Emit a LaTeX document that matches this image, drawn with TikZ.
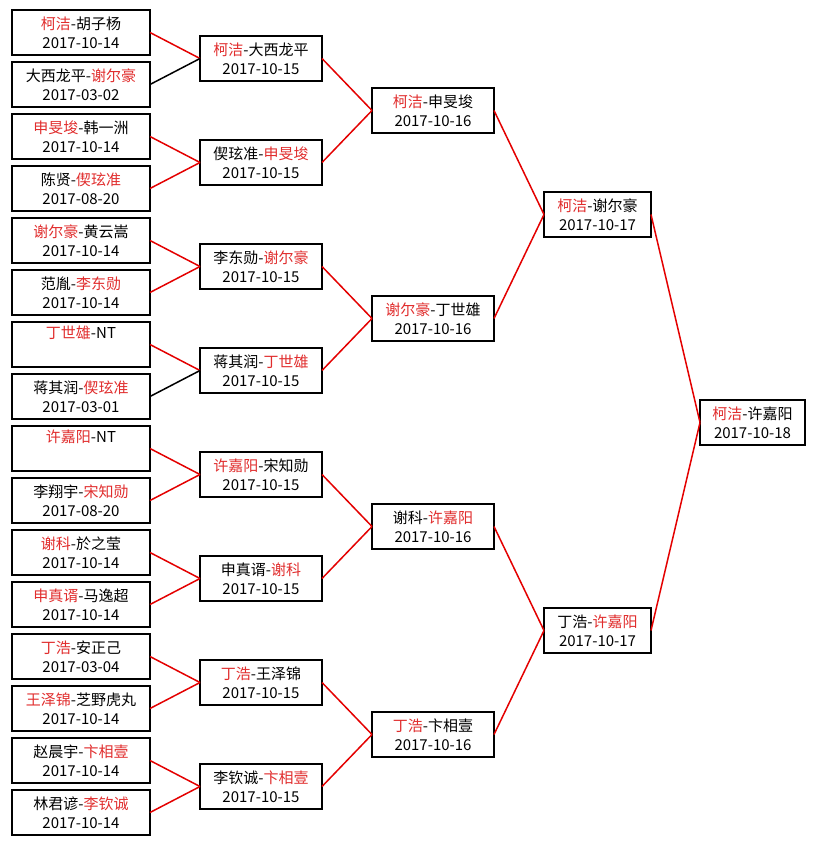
\documentclass[tikz,border=0pt]{standalone}
\usepackage{fontspec}
\setmainfont{Noto Sans CJK SC}
\usepackage{xcolor}
\usetikzlibrary{positioning, calc}
\definecolor{namered}{RGB}{225,45,45}
\definecolor{linkred}{RGB}{228,0,0}
\newcommand{\wn}[1]{\textcolor{namered}{#1}}

\begin{document}
\begin{tikzpicture}[
  x=1pt, y=-1pt,
  node distance=7pt,
  block/.style={rectangle, draw=black, line width=1.6pt, fill=white,
    minimum height=45pt, inner sep=0pt, outer sep=0pt, align=center,
    font=\fontsize{15}{19}\selectfont},
  round1/.style={block, minimum width=138pt},
  round2/.style={block, minimum width=122pt},
  round3/.style={block, minimum width=122pt},
  round4/.style={block, minimum width=107pt},
  final/.style={block, minimum width=105pt},
  arr/.style={line width=1.5pt, linkred},
  arrold/.style={line width=1.5pt, black}
]
  \useasboundingbox[fill=white] (0,0) rectangle (816,845);

  %% first round
  \node[round1] (a1) at (81,32.5) {\wn{柯洁}-胡子杨\\2017-10-14};
  \node[round1, below=of a1]  (a2)  {大西龙平-\wn{谢尔豪}\\2017-03-02};
  \node[round1, below=of a2]  (a3)  {\wn{申旻埈}-韩一洲\\2017-10-14};
  \node[round1, below=of a3]  (a4)  {陈贤-\wn{偰玹准}\\2017-08-20};
  \node[round1, below=of a4]  (a5)  {\wn{谢尔豪}-黄云嵩\\2017-10-14};
  \node[round1, below=of a5]  (a6)  {范胤-\wn{李东勋}\\2017-10-14};
  \node[round1, below=of a6]  (a7)  {\wn{丁世雄}-NT\\\strut};
  \node[round1, below=of a7]  (a8)  {蒋其润-\wn{偰玹准}\\2017-03-01};
  \node[round1, below=of a8]  (a9)  {\wn{许嘉阳}-NT\\\strut};
  \node[round1, below=of a9]  (a10) {李翔宇-\wn{宋知勋}\\2017-08-20};
  \node[round1, below=of a10] (a11) {\wn{谢科}-於之莹\\2017-10-14};
  \node[round1, below=of a11] (a12) {\wn{申真谞}-马逸超\\2017-10-14};
  \node[round1, below=of a12] (a13) {\wn{丁浩}-安正己\\2017-03-04};
  \node[round1, below=of a13] (a14) {\wn{王泽锦}-芝野虎丸\\2017-10-14};
  \node[round1, below=of a14] (a15) {赵晨宇-\wn{卞相壹}\\2017-10-14};
  \node[round1, below=of a15] (a16) {林君谚-\wn{李钦诚}\\2017-10-14};

  %% second round
  \node[round2] (b1) at ($(a1)!0.5!(a2)+(180,0)$)   {\wn{柯洁}-大西龙平\\2017-10-15};
  \node[round2] (b2) at ($(a3)!0.5!(a4)+(180,0)$)   {偰玹准-\wn{申旻埈}\\2017-10-15};
  \node[round2] (b3) at ($(a5)!0.5!(a6)+(180,0)$)   {李东勋-\wn{谢尔豪}\\2017-10-15};
  \node[round2] (b4) at ($(a7)!0.5!(a8)+(180,0)$)   {蒋其润-\wn{丁世雄}\\2017-10-15};
  \node[round2] (b5) at ($(a9)!0.5!(a10)+(180,0)$)  {\wn{许嘉阳}-宋知勋\\2017-10-15};
  \node[round2] (b6) at ($(a11)!0.5!(a12)+(180,0)$) {申真谞-\wn{谢科}\\2017-10-15};
  \node[round2] (b7) at ($(a13)!0.5!(a14)+(180,0)$) {\wn{丁浩}-王泽锦\\2017-10-15};
  \node[round2] (b8) at ($(a15)!0.5!(a16)+(180,0)$) {李钦诚-\wn{卞相壹}\\2017-10-15};

  %% third round
  \node[round3] (c1) at ($(b1)!0.5!(b2)+(172,0)$) {\wn{柯洁}-申旻埈\\2017-10-16};
  \node[round3] (c2) at ($(b3)!0.5!(b4)+(172,0)$) {\wn{谢尔豪}-丁世雄\\2017-10-16};
  \node[round3] (c3) at ($(b5)!0.5!(b6)+(172,0)$) {谢科-\wn{许嘉阳}\\2017-10-16};
  \node[round3] (c4) at ($(b7)!0.5!(b8)+(172,0)$) {\wn{丁浩}-卞相壹\\2017-10-16};

  %% semi final and final
  \node[round4] (d1) at ($(c1)!0.5!(c2)+(164.5,0)$) {\wn{柯洁}-谢尔豪\\2017-10-17};
  \node[round4] (d2) at ($(c3)!0.5!(c4)+(164.5,0)$) {丁浩-\wn{许嘉阳}\\2017-10-17};
  \node[final]  (e)  at ($(d1)!0.5!(d2)+(155,0)$)   {\wn{柯洁}-许嘉阳\\2017-10-18};

  %% connectors
  \draw[arr]    (a1.east)  -- (b1.west);
  \draw[arrold] (a2.east)  -- (b1.west);
  \draw[arr]    (a3.east)  -- (b2.west);
  \draw[arr]    (a4.east)  -- (b2.west);
  \draw[arr]    (a5.east)  -- (b3.west);
  \draw[arr]    (a6.east)  -- (b3.west);
  \draw[arr]    (a7.east)  -- (b4.west);
  \draw[arrold] (a8.east)  -- (b4.west);
  \draw[arr]    (a9.east)  -- (b5.west);
  \draw[arr]    (a10.east) -- (b5.west);
  \draw[arr]    (a11.east) -- (b6.west);
  \draw[arr]    (a12.east) -- (b6.west);
  \draw[arr]    (a13.east) -- (b7.west);
  \draw[arr]    (a14.east) -- (b7.west);
  \draw[arr]    (a15.east) -- (b8.west);
  \draw[arr]    (a16.east) -- (b8.west);

  \draw[arr] (b1.east) -- (c1.west);
  \draw[arr] (b2.east) -- (c1.west);
  \draw[arr] (b3.east) -- (c2.west);
  \draw[arr] (b4.east) -- (c2.west);
  \draw[arr] (b5.east) -- (c3.west);
  \draw[arr] (b6.east) -- (c3.west);
  \draw[arr] (b7.east) -- (c4.west);
  \draw[arr] (b8.east) -- (c4.west);

  \draw[arr] (c1.east) -- (d1.west);
  \draw[arr] (c2.east) -- (d1.west);
  \draw[arr] (c3.east) -- (d2.west);
  \draw[arr] (c4.east) -- (d2.west);

  \draw[arr] (d1.east) -- (e.west);
  \draw[arr] (d2.east) -- (e.west);
\end{tikzpicture}
\end{document}
